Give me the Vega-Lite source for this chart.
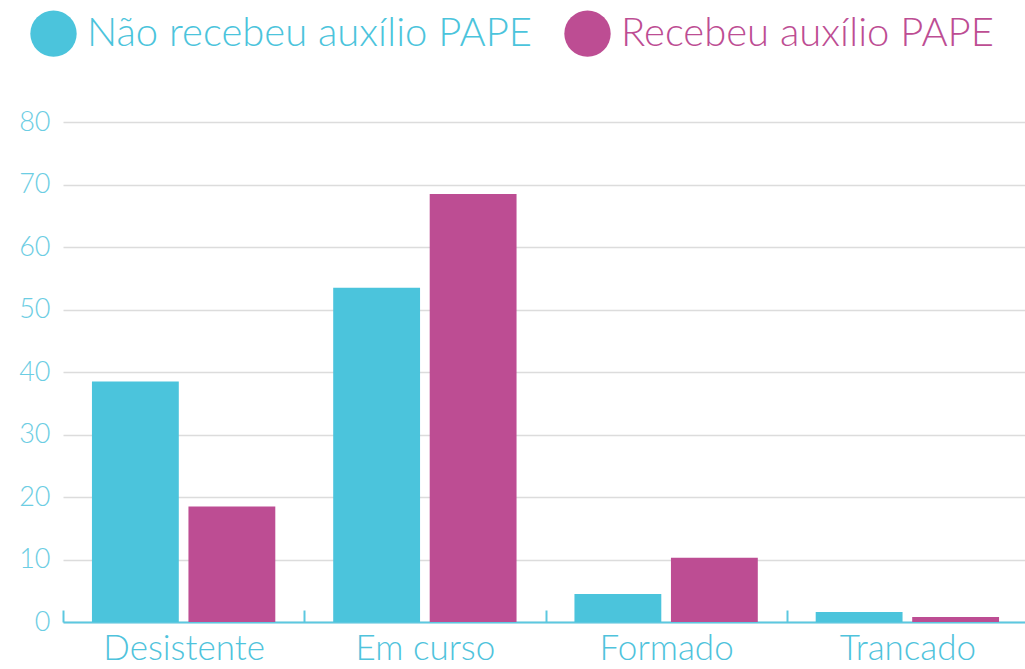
{
  "$schema": "https://vega.github.io/schema/vega-lite/v6.json",
  "autosize": {"type": "none"},
  "width": 965,
  "height": 500,
  "padding": {"left": 63, "top": 122, "right": 0, "bottom": 47},
  "background": "white",
  "data": {
    "values": [
      {"situacao": "Desistente", "grupo": "Não recebeu auxílio PAPE", "valor": 38.5},
      {"situacao": "Desistente", "grupo": "Recebeu auxílio PAPE", "valor": 18.5},
      {"situacao": "Em curso", "grupo": "Não recebeu auxílio PAPE", "valor": 53.5},
      {"situacao": "Em curso", "grupo": "Recebeu auxílio PAPE", "valor": 68.5},
      {"situacao": "Formado", "grupo": "Não recebeu auxílio PAPE", "valor": 4.5},
      {"situacao": "Formado", "grupo": "Recebeu auxílio PAPE", "valor": 10.3},
      {"situacao": "Trancado", "grupo": "Não recebeu auxílio PAPE", "valor": 1.6},
      {"situacao": "Trancado", "grupo": "Recebeu auxílio PAPE", "valor": 0.8}
    ]
  },
  "mark": {"type": "bar"},
  "encoding": {
    "x": {
      "field": "situacao",
      "type": "nominal",
      "sort": null,
      "scale": {"paddingInner": 0.24, "paddingOuter": 0.12},
      "axis": {
        "title": null,
        "labelAngle": 0,
        "labelColor": "#4fc3dc",
        "labelFontSize": 35,
        "labelFont": "Lato",
        "labelFontWeight": 300,
        "labelPadding": 21,
        "labelBaseline": "top",
        "labelOffset": 120.6,
        "domainColor": "#5cc8e0",
        "domainWidth": 2,
        "ticks": true,
        "tickBand": "center",
        "tickOffset": -120.6,
        "tickColor": "#5cc8e0",
        "tickWidth": 2,
        "tickSize": -12,
        "grid": false
      }
    },
    "xOffset": {
      "field": "grupo",
      "type": "nominal",
      "scale": {"paddingInner": 0.1}
    },
    "y": {
      "field": "valor",
      "type": "quantitative",
      "scale": {"domain": [0, 80], "nice": false},
      "axis": {
        "title": null,
        "values": [0, 10, 20, 30, 40, 50, 60, 70, 80],
        "domain": false,
        "ticks": false,
        "labelColor": "#6ccde3",
        "labelFontSize": 27,
        "labelFont": "Lato",
        "labelFontWeight": 300,
        "labelPadding": 13,
        "gridColor": "#dcdcdc",
        "gridWidth": 1.5
      }
    },
    "color": {
      "field": "grupo",
      "type": "nominal",
      "scale": {
        "domain": ["Não recebeu auxílio PAPE", "Recebeu auxílio PAPE"],
        "range": ["#4bc4dc", "#bd4d93"]
      },
      "legend": {
        "title": null,
        "orient": "none",
        "direction": "horizontal",
        "legendX": -33,
        "legendY": -112,
        "symbolType": "circle",
        "symbolSize": 2150,
        "symbolStrokeWidth": 0,
        "symbolOpacity": 1,
        "labelFont": "Lato",
        "labelFontWeight": 300,
        "labelFontSize": 40,
        "labelOffset": 10,
        "labelLimit": 600,
        "columnPadding": 32,
        "encode": {
          "labels": {"update": {"fill": {"scale": "color", "field": "value"}}}
        }
      }
    }
  },
  "config": {
    "view": {"stroke": null}
  }
}
